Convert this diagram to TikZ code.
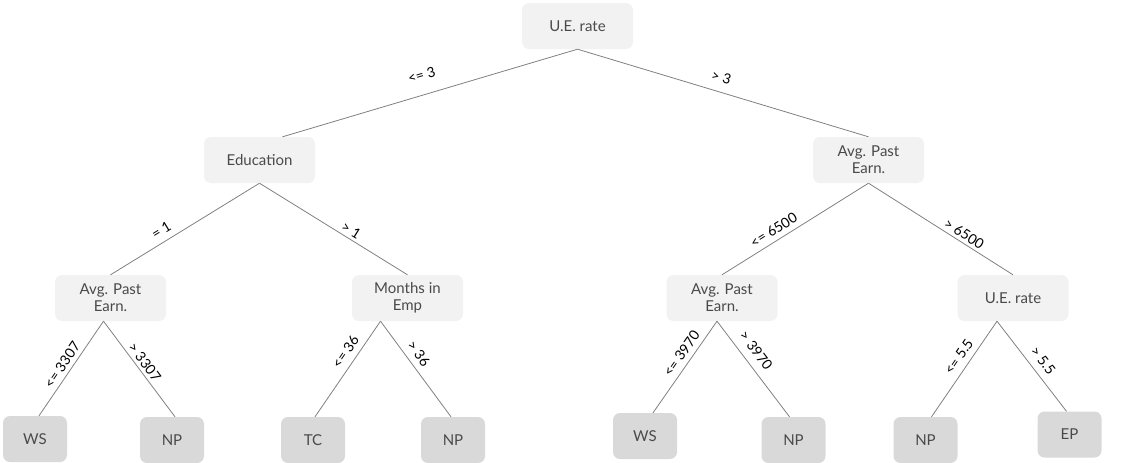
\documentclass[tikz,border=0pt]{standalone}
\usepackage{fontspec}
\setmainfont{Lato}
\definecolor{splitgray}{HTML}{F2F2F2}
\definecolor{leafgray}{HTML}{D9D9D9}
\definecolor{nodetext}{HTML}{4A4A4A}
\definecolor{linegray}{HTML}{808080}
\tikzset{
  split/.style={rectangle, rounded corners=7pt, fill=splitgray, text=nodetext,
    minimum width=111pt, minimum height=46pt, inner sep=2pt, align=center,
    font=\fontsize{15}{17}\selectfont},
  leaf/.style={split, fill=leafgray, minimum width=64pt},
  branch/.style={draw=linegray, line width=0.8pt},
  cond/.style={sloped, text=black, inner sep=1pt, font=\fontsize{14}{16}\selectfont}
}
\begin{document}
\begin{tikzpicture}[x=1pt, y=-1pt]
    \useasboundingbox (0,0) rectangle (1133,463);
    \node[split] (A0_0) at (577.5, 26) {U.E. rate};
    \node[split] (A1_0) at (259.5, 160) {Education};
    \node[split] (A1_1) at (868.5, 160) {Avg. Past\\Earn.};
    \node[split] (A2_0) at (110.5, 298) {Avg. Past\\Earn.};
    \node[split] (A2_1) at (407.5, 298) {Months in\\Emp};
    \node[split] (A2_2) at (722, 298) {Avg. Past\\Earn.};
    \node[split] (A2_3) at (1013, 298) {U.E. rate};
    \node[leaf] (A3_0) at (35, 439) {WS};
    \node[leaf] (A3_1) at (172, 440) {NP};
    \node[leaf] (A3_2) at (313, 440) {TC};
    \node[leaf] (A3_3) at (453, 440) {NP};
    \node[leaf] (A3_4) at (645, 436) {WS};
    \node[leaf] (A3_5) at (793.5, 440) {NP};
    \node[leaf] (A3_6) at (925.5, 440) {NP};
    \node[leaf] (A3_7) at (1069.5, 434.5) {EP};
    \path (A0_0.south) edge [branch] node [cond, pos=0.51, above=13pt] {<= 3} ([xshift=23pt]A1_0.north);
    \path (A0_0.south) edge [branch] node [cond, pos=0.48, above=8pt] {> 3} (A1_1.north);
    \path (A1_0.south) edge [branch] node [cond, pos=0.62, above=5pt] {= 1} (A2_0.north);
    \path (A1_0.south) edge [branch] node [cond, pos=0.59, above=2pt] {> 1} (A2_1.north);
    \path (A1_1.south) edge [branch] node [cond, pos=0.61, above=4pt] {<= 6500} (A2_2.north);
    \path (A1_1.south) edge [branch] node [cond, pos=0.63, above=2pt] {> 6500} (A2_3.north);
    \path ([xshift=-7pt]A2_0.south) edge [branch] node [cond, pos=0.52, above=3pt] {<= 3307} ([xshift=4pt]A3_0.north);
    \path ([xshift=-7pt]A2_0.south) edge [branch] node [cond, pos=0.48, above=2pt] {> 3307} ([xshift=3pt]A3_1.north);
    \path ([xshift=-27pt]A2_1.south) edge [branch] node [cond, pos=0.39, above=5pt] {<= 36} ([xshift=2pt]A3_2.north);
    \path ([xshift=-27pt]A2_1.south) edge [branch] node [cond, pos=0.41, above=5pt] {> 36} ([xshift=-2pt]A3_3.north);
    \path ([xshift=-5pt]A2_2.south) edge [branch] node [cond, pos=0.42, above=4pt] {<= 3970} ([xshift=8pt]A3_4.north);
    \path ([xshift=-5pt]A2_2.south) edge [branch] node [cond, pos=0.39, above=7pt] {> 3970} ([xshift=-4pt]A3_5.north);
    \path ([xshift=-16pt]A2_3.south) edge [branch] node [cond, pos=0.44, above=5pt] {<= 5.5} ([xshift=6pt]A3_6.north);
    \path ([xshift=-16pt]A2_3.south) edge [branch] node [cond, pos=0.52, above=6pt] {> 5.5} ([xshift=-3pt]A3_7.north);
  \end{tikzpicture}
\end{document}
